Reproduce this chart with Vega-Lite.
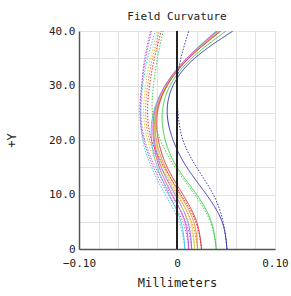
{
  "$schema": "https://vega.github.io/schema/vega-lite/v6.json",
  "autosize": {"type": "none"},
  "padding": {"left": 79, "top": 31, "right": 16, "bottom": 47},
  "width": 196,
  "height": 218,
  "background": "white",
  "title": {"text": "Field Curvature", "font": "DejaVu Sans Mono", "fontSize": 11, "fontWeight": "normal", "color": "#222", "offset": 3},
  "config": {
    "view": {"stroke": null},
    "axis": {"labelFont": "DejaVu Sans Mono", "titleFont": "DejaVu Sans Mono", "labelFontSize": 11, "titleFontSize": 12, "titleFontWeight": "normal", "labelColor": "#222", "titleColor": "#222", "gridColor": "#e2e2e2", "gridWidth": 1, "ticks": false, "domainColor": "#555", "domainWidth": 1.5}
  },
  "resolve": {"axis": {"x": "independent"}},
  "data": {"values": [
    {"c":"cyan","s":"T","y":0,"x":0.008},{"c":"cyan","s":"T","y":5,"x":0.004},{"c":"cyan","s":"T","y":10,"x":-0.008},{"c":"cyan","s":"T","y":15,"x":-0.020},{"c":"cyan","s":"T","y":20,"x":-0.026},{"c":"cyan","s":"T","y":25,"x":-0.024},{"c":"cyan","s":"T","y":30,"x":-0.012},{"c":"cyan","s":"T","y":35,"x":0.010},{"c":"cyan","s":"T","y":40,"x":0.040},
    {"c":"magenta","s":"T","y":0,"x":0.012},{"c":"magenta","s":"T","y":5,"x":0.008},{"c":"magenta","s":"T","y":10,"x":-0.005},{"c":"magenta","s":"T","y":15,"x":-0.018},{"c":"magenta","s":"T","y":20,"x":-0.024},{"c":"magenta","s":"T","y":25,"x":-0.023},{"c":"magenta","s":"T","y":30,"x":-0.012},{"c":"magenta","s":"T","y":35,"x":0.010},{"c":"magenta","s":"T","y":40,"x":0.041},
    {"c":"purple","s":"T","y":0,"x":0.015},{"c":"purple","s":"T","y":5,"x":0.011},{"c":"purple","s":"T","y":10,"x":-0.002},{"c":"purple","s":"T","y":15,"x":-0.016},{"c":"purple","s":"T","y":20,"x":-0.023},{"c":"purple","s":"T","y":25,"x":-0.022},{"c":"purple","s":"T","y":30,"x":-0.011},{"c":"purple","s":"T","y":35,"x":0.011},{"c":"purple","s":"T","y":40,"x":0.042},
    {"c":"yellow","s":"T","y":0,"x":0.018},{"c":"yellow","s":"T","y":5,"x":0.014},{"c":"yellow","s":"T","y":10,"x":0.001},{"c":"yellow","s":"T","y":15,"x":-0.014},{"c":"yellow","s":"T","y":20,"x":-0.022},{"c":"yellow","s":"T","y":25,"x":-0.022},{"c":"yellow","s":"T","y":30,"x":-0.011},{"c":"yellow","s":"T","y":35,"x":0.011},{"c":"yellow","s":"T","y":40,"x":0.043},
    {"c":"orange","s":"T","y":0,"x":0.021},{"c":"orange","s":"T","y":5,"x":0.017},{"c":"orange","s":"T","y":10,"x":0.003},{"c":"orange","s":"T","y":15,"x":-0.012},{"c":"orange","s":"T","y":20,"x":-0.021},{"c":"orange","s":"T","y":25,"x":-0.021},{"c":"orange","s":"T","y":30,"x":-0.010},{"c":"orange","s":"T","y":35,"x":0.012},{"c":"orange","s":"T","y":40,"x":0.044},
    {"c":"red","s":"T","y":0,"x":0.025},{"c":"red","s":"T","y":5,"x":0.020},{"c":"red","s":"T","y":10,"x":0.006},{"c":"red","s":"T","y":15,"x":-0.010},{"c":"red","s":"T","y":20,"x":-0.019},{"c":"red","s":"T","y":25,"x":-0.020},{"c":"red","s":"T","y":30,"x":-0.010},{"c":"red","s":"T","y":35,"x":0.012},{"c":"red","s":"T","y":40,"x":0.045},
    {"c":"green","s":"T","y":0,"x":0.040},{"c":"green","s":"T","y":5,"x":0.035},{"c":"green","s":"T","y":10,"x":0.020},{"c":"green","s":"T","y":15,"x":0.000},{"c":"green","s":"T","y":20,"x":-0.012},{"c":"green","s":"T","y":25,"x":-0.015},{"c":"green","s":"T","y":30,"x":-0.007},{"c":"green","s":"T","y":35,"x":0.015},{"c":"green","s":"T","y":40,"x":0.050},
    {"c":"blue","s":"T","y":0,"x":0.051},{"c":"blue","s":"T","y":5,"x":0.046},{"c":"blue","s":"T","y":10,"x":0.030},{"c":"blue","s":"T","y":15,"x":0.010},{"c":"blue","s":"T","y":20,"x":-0.004},{"c":"blue","s":"T","y":25,"x":-0.010},{"c":"blue","s":"T","y":30,"x":-0.004},{"c":"blue","s":"T","y":35,"x":0.018},{"c":"blue","s":"T","y":40,"x":0.057},
    {"c":"cyan","s":"S","y":0,"x":0.008},{"c":"cyan","s":"S","y":5,"x":0.002},{"c":"cyan","s":"S","y":10,"x":-0.012},{"c":"cyan","s":"S","y":15,"x":-0.026},{"c":"cyan","s":"S","y":20,"x":-0.035},{"c":"cyan","s":"S","y":25,"x":-0.037},{"c":"cyan","s":"S","y":30,"x":-0.035},{"c":"cyan","s":"S","y":35,"x":-0.030},{"c":"cyan","s":"S","y":40,"x":-0.022},
    {"c":"magenta","s":"S","y":0,"x":0.012},{"c":"magenta","s":"S","y":5,"x":0.006},{"c":"magenta","s":"S","y":10,"x":-0.009},{"c":"magenta","s":"S","y":15,"x":-0.024},{"c":"magenta","s":"S","y":20,"x":-0.034},{"c":"magenta","s":"S","y":25,"x":-0.038},{"c":"magenta","s":"S","y":30,"x":-0.036},{"c":"magenta","s":"S","y":35,"x":-0.032},{"c":"magenta","s":"S","y":40,"x":-0.026},
    {"c":"purple","s":"S","y":0,"x":0.015},{"c":"purple","s":"S","y":5,"x":0.009},{"c":"purple","s":"S","y":10,"x":-0.006},{"c":"purple","s":"S","y":15,"x":-0.022},{"c":"purple","s":"S","y":20,"x":-0.033},{"c":"purple","s":"S","y":25,"x":-0.037},{"c":"purple","s":"S","y":30,"x":-0.036},{"c":"purple","s":"S","y":35,"x":-0.033},{"c":"purple","s":"S","y":40,"x":-0.027},
    {"c":"yellow","s":"S","y":0,"x":0.018},{"c":"yellow","s":"S","y":5,"x":0.012},{"c":"yellow","s":"S","y":10,"x":-0.003},{"c":"yellow","s":"S","y":15,"x":-0.019},{"c":"yellow","s":"S","y":20,"x":-0.030},{"c":"yellow","s":"S","y":25,"x":-0.034},{"c":"yellow","s":"S","y":30,"x":-0.032},{"c":"yellow","s":"S","y":35,"x":-0.027},{"c":"yellow","s":"S","y":40,"x":-0.020},
    {"c":"orange","s":"S","y":0,"x":0.021},{"c":"orange","s":"S","y":5,"x":0.015},{"c":"orange","s":"S","y":10,"x":0.000},{"c":"orange","s":"S","y":15,"x":-0.016},{"c":"orange","s":"S","y":20,"x":-0.028},{"c":"orange","s":"S","y":25,"x":-0.032},{"c":"orange","s":"S","y":30,"x":-0.030},{"c":"orange","s":"S","y":35,"x":-0.025},{"c":"orange","s":"S","y":40,"x":-0.018},
    {"c":"red","s":"S","y":0,"x":0.025},{"c":"red","s":"S","y":5,"x":0.019},{"c":"red","s":"S","y":10,"x":0.004},{"c":"red","s":"S","y":15,"x":-0.013},{"c":"red","s":"S","y":20,"x":-0.026},{"c":"red","s":"S","y":25,"x":-0.030},{"c":"red","s":"S","y":30,"x":-0.028},{"c":"red","s":"S","y":35,"x":-0.023},{"c":"red","s":"S","y":40,"x":-0.016},
    {"c":"green","s":"S","y":0,"x":0.040},{"c":"green","s":"S","y":5,"x":0.034},{"c":"green","s":"S","y":10,"x":0.018},{"c":"green","s":"S","y":15,"x":-0.002},{"c":"green","s":"S","y":20,"x":-0.017},{"c":"green","s":"S","y":25,"x":-0.025},{"c":"green","s":"S","y":30,"x":-0.024},{"c":"green","s":"S","y":35,"x":-0.020},{"c":"green","s":"S","y":40,"x":-0.014},
    {"c":"blue","s":"S","y":0,"x":0.051},{"c":"blue","s":"S","y":5,"x":0.047},{"c":"blue","s":"S","y":10,"x":0.037},{"c":"blue","s":"S","y":15,"x":0.020},{"c":"blue","s":"S","y":20,"x":0.006},{"c":"blue","s":"S","y":25,"x":0.001},{"c":"blue","s":"S","y":30,"x":0.000},{"c":"blue","s":"S","y":35,"x":0.004},{"c":"blue","s":"S","y":40,"x":0.012}
  ]},
  "layer": [
    {
      "mark": {"type": "line", "interpolate": "natural", "strokeWidth": 1, "clip": true},
      "encoding": {
        "x": {"field": "x", "type": "quantitative", "scale": {"domain": [-0.1, 0.1], "nice": false, "zero": false},
          "axis": {"title": null, "orient": "bottom", "values": [-0.1,-0.08,-0.06,-0.04,-0.02,0,0.02,0.04,0.06,0.08,0.1], "labels": false, "domain": false}},
        "y": {"field": "y", "type": "quantitative", "scale": {"domain": [0, 40], "nice": false},
          "axis": {"title": "+Y", "values": [0,5,10,15,20,25,30,35,40], "labelExpr": "datum.value == 0 ? '0' : (datum.value % 10 == 0 ? format(datum.value, '.1f') : '')", "labelPadding": 4, "titlePadding": 30, "labelFlush": false, "labelOverlap": false}},
        "color": {"field": "c", "type": "nominal", "legend": null,
          "scale": {"domain": ["cyan","magenta","purple","yellow","orange","red","green","blue"], "range": ["#3ccbe8","#d84ad8","#9a6ae6","#d8d04a","#ee8a3a","#dd3838","#45cc4a","#3a3ab0"]}},
        "strokeDash": {"field": "s", "type": "nominal", "legend": null, "scale": {"domain": ["T","S"], "range": [[1,0],[1.5,1.5]]}},
        "detail": {"field": "s"},
        "order": {"field": "y", "type": "quantitative"}
      }
    },
    {
      "mark": {"type": "rule", "color": "#222", "strokeWidth": 1.2},
      "encoding": {"x": {"datum": 0, "type": "quantitative",
        "axis": {"title": "Millimeters", "orient": "bottom", "grid": false, "values": [-0.1, 0, 0.1], "labelExpr": "datum.value == 0 ? '0' : format(datum.value, '.2f')", "labelPadding": 8, "titlePadding": 9, "labelFlush": false, "labelOverlap": false}}}
    }
  ]
}
